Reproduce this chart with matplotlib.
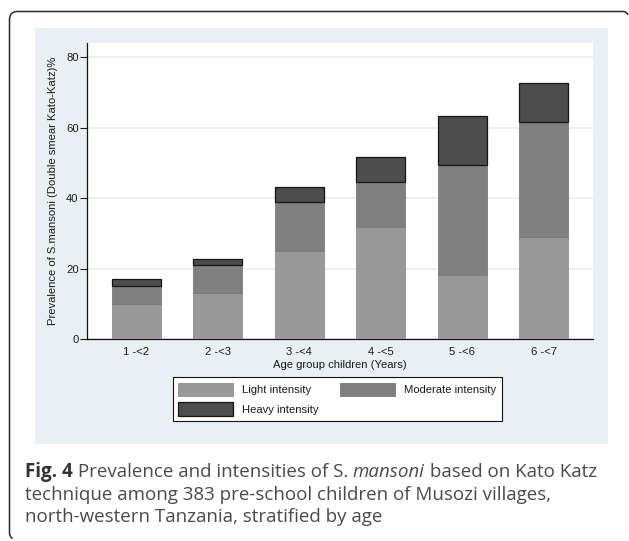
import matplotlib
matplotlib.use("Agg")
import matplotlib.pyplot as plt
from matplotlib.patches import Rectangle, PathPatch
from matplotlib.path import Path
import numpy as np

# ---- data ----
age_groups = ["1 -<2", "2 -<3", "3 -<4", "4 -<5", "5 -<6", "6 -<7"]
light = [10.0, 13.1, 25.1, 31.9, 18.2, 28.9]
moderate = [5.2, 8.1, 13.8, 12.8, 31.1, 32.8]
heavy = [1.9, 1.5, 4.4, 7.0, 14.0, 11.0]
series_labels = ["Light intensity", "Moderate intensity", "Heavy intensity"]
yticks = [0, 20, 40, 60, 80]
ylabel = "Prevalence of S.mansoni (Double smear Kato-Katz)%"
xlabel = "Age group children (Years)"

W, H = 629, 541
fig = plt.figure(figsize=(W / 100, H / 100), dpi=100)
fig.patch.set_facecolor("white")

def fx(px):
    return px / W

def fy(py):
    return 1 - py / H

# panel background
panel_col = "#e9f0f3"
fig.patches.append(Rectangle((fx(35), fy(444)), fx(608) - fx(35), fy(28) - fy(444),
                             transform=fig.transFigure, facecolor=panel_col,
                             edgecolor="none", zorder=-5))

# outer bracket frame (top + left, rounded corners)
r = 8
verts = [
    (628, 15), (627, 12), (624, 11.5),
    (9.5 + r, 11.5), (9.5, 11.5), (9.5, 11.5 + r),
    (9.5, 533), (9.5, 537), (12.5, 538.5),
]
codes = [Path.MOVETO, Path.CURVE3, Path.CURVE3,
         Path.LINETO, Path.CURVE3, Path.CURVE3,
         Path.LINETO, Path.CURVE3, Path.CURVE3]
verts_f = [(fx(x), fy(y)) for x, y in verts]
fig.patches.append(PathPatch(Path(verts_f, codes), transform=fig.transFigure,
                             facecolor="none", edgecolor="#2b2b2b", lw=1.1, zorder=-4))

# axes
ax = fig.add_axes([fx(87.3), fy(339.3), fx(592.7) - fx(87.3), fy(42.7) - fy(339.3)])
ax.set_facecolor("white")
font = "Liberation Sans"
fs = 8.1
em = fs * 100 / 72  # pixels per em

x = np.arange(1, len(age_groups) + 1)
bw = 0.6
c_light, c_mod, c_heavy = "#999999", "#808080", "#4d4d4d"
light_a = np.array(light)
mod_a = np.array(moderate)
heavy_a = np.array(heavy)
b1 = ax.bar(x, light_a, bw, color=c_light, edgecolor="#8d8d8d", linewidth=0.6, zorder=3, label=series_labels[0])
b2 = ax.bar(x, mod_a, bw, bottom=light_a, color=c_mod, edgecolor="#7a7a7a", linewidth=0.6, zorder=3, label=series_labels[1])
b3 = ax.bar(x, heavy_a, bw, bottom=light_a + mod_a, color=c_heavy, edgecolor="#151515", linewidth=0.9, zorder=3, label=series_labels[2])

ax.set_xlim(0.4, 6.6)
ax.set_ylim(0, 84.1)
ax.set_yticks(yticks)
ax.set_yticklabels([str(t) for t in yticks], fontsize=fs, family=font, color="#1a1a1a")
ax.set_xticks(x)
ax.set_xticklabels(age_groups, fontsize=fs, family=font, color="#1a1a1a")
ax.tick_params(axis="x", length=0, pad=5.2)
ax.tick_params(axis="y", length=5, width=0.8, pad=1.2, color="#1a1a1a")
ax.grid(axis="y", color="#e8eff2", linewidth=1.3, zorder=0)
ax.set_axisbelow(True)
for s in ["top", "right"]:
    ax.spines[s].set_visible(False)
for s in ["left", "bottom"]:
    ax.spines[s].set_linewidth(0.9)
    ax.spines[s].set_color("#111111")

ax.set_ylabel(ylabel, fontsize=fs, family=font, color="#1a1a1a", va="center")
ax.yaxis.set_label_coords((53 - 87.3) / 505.4, 0.5)
ax.set_xlabel(xlabel, fontsize=fs, family=font, color="#1a1a1a", va="center")
ax.xaxis.set_label_coords(0.5, (339.3 - 365) / 296.6)

# legend (row-wise order: Light, Moderate / Heavy)
handles = [b1, b3, b2]
labels = [series_labels[0], series_labels[2], series_labels[1]]
leg = fig.legend(handles, labels, loc="upper left",
                 bbox_to_anchor=(fx(172.7), fy(377.3)), borderaxespad=0,
                 ncol=2, prop={"family": font, "size": fs},
                 handlelength=55 / em, handleheight=16.5 / em, handletextpad=9.3 / em,
                 columnspacing=21 / em, labelspacing=6.0 / em, borderpad=5.5 / em,
                 fancybox=False, framealpha=1, edgecolor="#111111")
leg.get_frame().set_linewidth(0.8)
for t in leg.get_texts():
    t.set_color("#1a1a1a")

# caption with mixed styles
cap_font = "Open Sans"
cap_col = "#4a4a4a"
lines = [
    [("Fig. 4", "bold", "normal", "#333333"), (" Prevalence and intensities of S. ", "normal", "normal", cap_col),
     ("mansoni", "normal", "italic", cap_col), (" based on Kato Katz", "normal", "normal", cap_col)],
    [("technique among 383 pre-school children of Musozi villages,", "normal", "normal", cap_col)],
    [("north-western Tanzania, stratified by age", "normal", "normal", cap_col)],
]
baselines = [477.3, 499.5, 521.7]
renderer = fig.canvas.get_renderer()

def draw_line(parts, x0, ybase, size, draw=True):
    xx = x0
    texts = []
    for s, wgt, sty, col in parts:
        t = fig.text(fx(xx), fy(ybase), s, fontsize=size, family=cap_font,
                     weight=wgt, style=sty, color=col, va="baseline", ha="left")
        bb = t.get_window_extent(renderer)
        xx += bb.width
        texts.append(t)
    if not draw:
        for t in texts:
            t.remove()
    return xx - x0

w_test = draw_line(lines[0], 25, baselines[0], 11.0, draw=False)
cap_size = 11.0 * 573 / w_test
for parts, yb in zip(lines, baselines):
    draw_line(parts, 25, yb, cap_size)

fig.savefig("out.png", dpi=100, facecolor="white")
